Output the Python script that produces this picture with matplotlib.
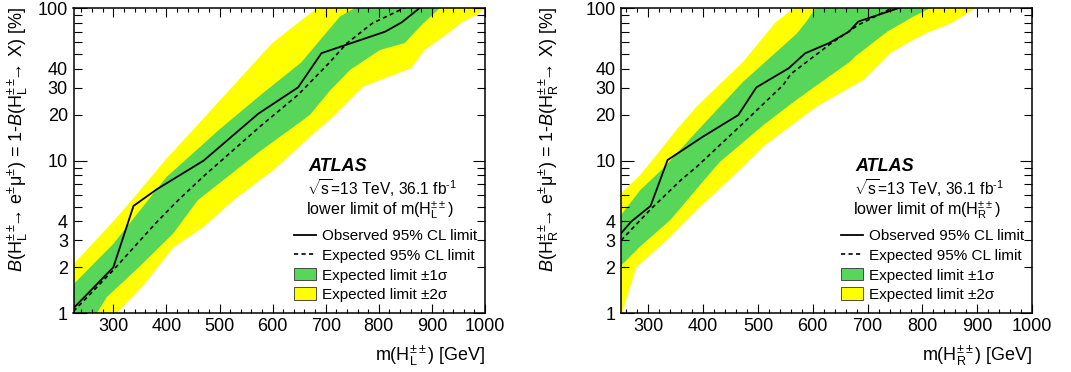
import numpy as np
import matplotlib
matplotlib.use('Agg')
import matplotlib.pyplot as plt
from matplotlib.ticker import FixedLocator, FuncFormatter
from matplotlib.lines import Line2D
from matplotlib.patches import Rectangle

plt.rcParams['font.family'] = ['Liberation Sans', 'DejaVu Sans']
plt.rcParams['mathtext.fontset'] = 'custom'
plt.rcParams['mathtext.rm'] = 'Liberation Sans'
plt.rcParams['mathtext.it'] = 'Liberation Sans:italic'
plt.rcParams['mathtext.bf'] = 'Liberation Sans:bold'
plt.rcParams['mathtext.sf'] = 'Liberation Sans'

# ---------------- data: left panel (H_L) ----------------
L_obs_m = [225, 300, 338, 382, 470, 573, 648, 692, 812, 843, 877]
L_obs_B = [1.08, 2.0, 5.05, 6.5, 10.0, 20.3, 30.2, 50.6, 70.0, 80.5, 100]
L_exp_m = [225, 300, 380, 422, 470, 576, 648, 706, 740, 788, 848]
L_exp_B = [1.03, 1.92, 3.9, 5.5, 7.9, 16.7, 27.0, 43.5, 58.8, 79.5, 100]
L_1s_up_m = [225, 300, 400, 499, 575, 654, 690, 727, 755]
L_1s_up_B = [1.55, 2.85, 7.8, 15.9, 26.5, 44.0, 62.0, 88.0, 100]
L_1s_dn_m = [225, 269, 288, 346, 413, 459, 576, 636, 670, 709, 746, 802, 849, 880, 915]
L_1s_dn_B = [0.8, 1.0, 1.28, 1.97, 3.34, 5.5, 11.5, 16.3, 19.9, 29.0, 39.3, 53.0, 59.0, 77.0, 100]
L_2s_up_m = [225, 300, 340, 400, 450, 599, 654, 685]
L_2s_up_B = [2.1, 4.0, 5.8, 10.3, 15.9, 58.8, 83.0, 100]
L_2s_dn_m = [225, 306, 355, 413, 471, 526, 602, 672, 714, 770, 861, 886, 922, 959, 984, 1000]
L_2s_dn_B = [0.6, 1.0, 1.5, 2.7, 3.7, 5.5, 8.7, 14.5, 19.4, 30.5, 40.3, 53.0, 65.0, 81.5, 90.0, 100]

# ---------------- data: right panel (H_R) ----------------
R_obs_m = [250, 269, 304, 335, 400, 464, 497, 556, 586, 630, 666, 683, 757]
R_obs_B = [3.34, 4.0, 5.05, 10.1, 14.4, 19.9, 30.2, 40.3, 50.5, 59.0, 70.0, 81.5, 100]
R_exp_m = [250, 304, 360, 388, 473, 546, 560, 630, 683, 745]
R_exp_B = [3.0, 4.8, 7.5, 9.1, 17.6, 31.3, 37.0, 57.5, 77.5, 100]
R_1s_up_m = [250, 285, 327, 388, 473, 571, 590, 605]
R_1s_up_B = [4.4, 6.4, 8.9, 15.5, 32.9, 68.0, 83.0, 100]
R_1s_dn_m = [250, 285, 340, 401, 431, 510, 560, 595, 668, 677, 736, 784, 815]
R_1s_dn_B = [2.05, 2.74, 4.08, 7.4, 9.85, 17.1, 23.5, 29.0, 44.5, 48.0, 70.0, 88.0, 100]
R_2s_up_m = [250, 285, 315, 351, 388, 473, 532, 566]
R_2s_up_B = [6.1, 8.05, 10.9, 15.9, 22.6, 44.5, 80.5, 100]
R_2s_dn_m = [250, 278, 333, 397, 448, 510, 560, 607, 692, 741, 778, 807, 853, 898]
R_2s_dn_B = [0.95, 2.0, 3.0, 5.1, 7.5, 12.4, 16.9, 22.6, 33.7, 50.5, 60.3, 68.4, 79.5, 100]

x_ticks = [300, 400, 500, 600, 700, 800, 900, 1000]
y_labels = [1, 2, 3, 4, 10, 20, 30, 40, 100]

GREEN = '#58d65a'
YELLOW = '#ffff00'

W, H = 1071, 372
fig = plt.figure(figsize=(W / 100, H / 100), dpi=100)

FS_TICK = 13
FS_TXT = 11.0


def band(ax, um, ub, dm, db, color):
    xs = list(um) + list(dm)[::-1]
    ys = list(ub) + list(db)[::-1]
    ax.fill(xs, ys, color=color, lw=0, zorder=1)


def style_axes(ax, xmin):
    ax.set_yscale('log')
    ax.set_xlim(xmin, 1000)
    ax.set_ylim(1, 100)
    ax.xaxis.set_major_locator(FixedLocator(x_ticks))
    ax.xaxis.set_minor_locator(FixedLocator(
        [v for v in np.arange(200, 1001, 20) if v % 100 != 0 and v >= xmin]))
    ax.yaxis.set_major_locator(FixedLocator([1, 10, 100]))
    minors = [v * d for d in (1, 10) for v in range(2, 10)]
    ax.yaxis.set_minor_locator(FixedLocator(minors))
    fmt = FuncFormatter(lambda v, p: ('%d' % round(v)) if round(v) in y_labels else '')
    ax.yaxis.set_major_formatter(fmt)
    ax.yaxis.set_minor_formatter(fmt)
    ax.tick_params(which='both', direction='in', top=True, right=True,
                   labelsize=FS_TICK, width=0.8, color='black')
    ax.tick_params(axis='x', which='major', length=6.2, pad=3.6)
    ax.tick_params(axis='x', which='minor', length=3.2)
    ax.tick_params(axis='y', which='major', length=9, pad=4.0)
    ax.tick_params(axis='y', which='minor', length=5.5, pad=4.0)
    for s in ax.spines.values():
        s.set_linewidth(1.1)
        s.set_zorder(10)


def legend_block(ax, sub):
    tr = ax.transAxes
    xt = 0.568
    ax.text(xt + 0.002, 0.466, 'ATLAS', transform=tr, fontsize=13,
            fontweight='bold', fontstyle='italic', ha='left', va='baseline')
    ax.text(xt, 0.386, '$\\sqrt{\\rm s}$=13 TeV, 36.1 fb$^{\\rm \u2010 1}$', transform=tr,
            fontsize=FS_TXT + 0.2, ha='left', va='baseline')
    ax.text(xt - 0.003, 0.322, r'lower limit of m(H$^{\pm\pm}_{\rm %s}$)' % sub,
            transform=tr, fontsize=FS_TXT + 0.6, ha='left', va='baseline')
    rows = [0.239, 0.175, 0.110, 0.046]
    labels = ['Observed 95% CL limit', 'Expected 95% CL limit',
              'Expected limit \u00b11\u03c3', 'Expected limit \u00b12\u03c3']
    x0, x1 = 0.536, 0.590
    for i, (yb, lab) in enumerate(zip(rows, labels)):
        yc = yb + 0.019
        if i == 0:
            ax.add_line(Line2D([x0, x1], [yc, yc], transform=tr, color='black', lw=1.3))
        elif i == 1:
            ax.add_line(Line2D([x0, x1], [yc, yc], transform=tr, color='black', lw=1.2,
                               linestyle=(0, (2.5, 2))))
        else:
            col = GREEN if i == 2 else YELLOW
            ax.add_patch(Rectangle((x0, yc - 0.020), x1 - x0, 0.040, transform=tr,
                                   facecolor=col, edgecolor='#333333', lw=0.6))
        ax.text(0.603, yb, lab, transform=tr, fontsize=FS_TXT,
                ha='left', va='baseline')


panels = [
    dict(x0=73.5, x1=485.0, xmin=225, sub='L',
         obs=(L_obs_m, L_obs_B), exp=(L_exp_m, L_exp_B),
         s1=(L_1s_up_m, L_1s_up_B, L_1s_dn_m, L_1s_dn_B),
         s2=(L_2s_up_m, L_2s_up_B, L_2s_dn_m, L_2s_dn_B), ylab_x=18),
    dict(x0=621.0, x1=1032.0, xmin=250, sub='R',
         obs=(R_obs_m, R_obs_B), exp=(R_exp_m, R_exp_B),
         s1=(R_1s_up_m, R_1s_up_B, R_1s_dn_m, R_1s_dn_B),
         s2=(R_2s_up_m, R_2s_up_B, R_2s_dn_m, R_2s_dn_B), ylab_x=549),
]

ax_top, ax_bot = 8.0, 313.3
for p in panels:
    ax = fig.add_axes([p['x0'] / W, 1 - ax_bot / H, (p['x1'] - p['x0']) / W,
                       (ax_bot - ax_top) / H])
    band(ax, *p['s2'], YELLOW)
    band(ax, *p['s1'], GREEN)
    ax.plot(*p['exp'], color='black', lw=1.2, linestyle=(0, (2.5, 2)), zorder=3)
    ax.plot(*p['obs'], color='black', lw=1.3, zorder=4)
    style_axes(ax, p['xmin'])
    legend_block(ax, p['sub'])
    s = p['sub']
    ax.text(1.0, -0.155, r'm(H$^{\pm\pm}_{\rm %s}$) [GeV]' % s, transform=ax.transAxes,
            fontsize=13, ha='right', va='baseline')
    ylab = (r'$\it{B}$(H$^{\pm\pm}_{\rm %s}\!\!\!{\rightarrow}\,$e$^{\pm}$' % s + '\u03bc'
            + r'$^{\pm}$) = 1-$\it{B}$(H$^{\pm\pm}_{\rm %s}\!\!\!{\rightarrow}\,$X) [%%]' % s)
    fig.text(p['ylab_x'] / W, 1 - 7 / H, ylab, rotation=90, fontsize=13,
             ha='center', va='top')

fig.savefig('out.png', dpi=100)
